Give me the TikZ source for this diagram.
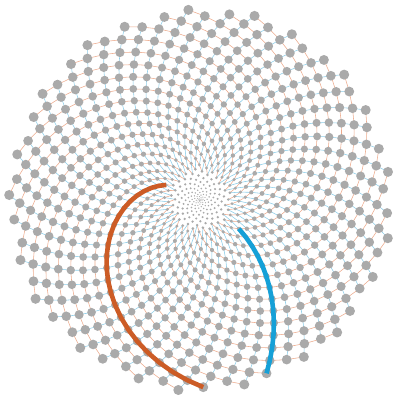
\documentclass[tikz,border=0pt]{standalone}
\definecolor{dotgray}{RGB}{170,170,170}
\definecolor{linor}{RGB}{236,170,140}
\definecolor{linbl}{RGB}{140,205,232}
\definecolor{hlor}{RGB}{204,92,38}
\definecolor{hlbl}{RGB}{22,160,215}
\tikzset{
  orlink/.style={draw=linor, line width=0.55pt},
  bllink/.style={draw=linbl, line width=0.55pt},
  seed/.style={fill=dotgray},
  orspiral/.style={draw=hlor, line width=4.6pt, line join=round},
  blspiral/.style={draw=hlbl, line width=4.6pt, line join=round}
}
\begin{document}
\begin{tikzpicture}[x=1pt,y=1pt]
\useasboundingbox (0,0) rectangle (395,399);
\foreach \n in {1,...,1000}{
  \edef\xx{\fpeval{200+0.192*\n*cosd(53.5-137.5*\n)}}
  \edef\yy{\fpeval{199+0.192*\n*sind(53.5-137.5*\n)}}
  \coordinate (p\n) at (\xx,\yy);
}
\foreach \n [evaluate=\n as \m using int(\n+34)] in {130,...,966}{
  \draw[orlink] (p\n) -- (p\m);
}
\foreach \n [evaluate=\n as \m using int(\n+55)] in {130,...,945}{
  \draw[bllink] (p\n) -- (p\m);
}
\foreach \n in {1,...,1000}{
  \edef\rr{\fpeval{0.35+4.7*(\n/1000)^0.75}}
  \fill[seed] (p\n) circle (\rr);
}
\draw[orspiral] (p193) foreach \k [evaluate=\k as \m using int(193+34*\k)] in {1,...,23} { -- (p\m) };
\draw[blspiral] (p252) foreach \k [evaluate=\k as \m using int(252+55*\k)] in {1,...,13} { -- (p\m) };
\end{tikzpicture}
\end{document}
